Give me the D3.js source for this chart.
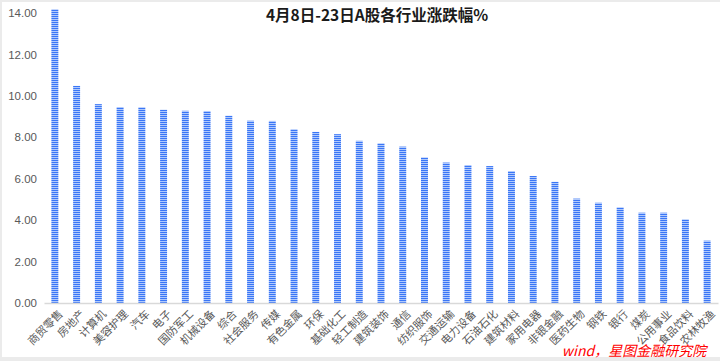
<!DOCTYPE html>
<html><head><meta charset="utf-8">
<script src="https://cdn.jsdelivr.net/npm/d3@7/dist/d3.min.js"></script>
<style>body{margin:0;background:#fff}svg{display:block}</style>
</head><body>
<svg id="c" width="720" height="361"></svg>
<script>
const categories = ["商贸零售","房地产","计算机","美容护理","汽车","电子","国防军工","机械设备","综合","社会服务","传媒","有色金属","环保","基础化工","轻工制造","建筑装饰","通信","纺织服饰","交通运输","电力设备","石油石化","建筑材料","家用电器","非银金融","医药生物","钢铁","银行","煤炭","公用事业","食品饮料","农林牧渔"];
const values = [14.18,10.48,9.60,9.46,9.45,9.33,9.28,9.27,9.04,8.80,8.79,8.39,8.26,8.15,7.83,7.71,7.55,7.03,6.78,6.66,6.61,6.37,6.13,5.85,5.04,4.84,4.62,4.36,4.36,4.04,3.01];
const yTicks = [0,2,4,6,8,10,12,14];
const title = "4月8日-23日A股各行业涨跌幅%";
const source = "wind，星图金融研究院";

const svg = d3.select("#c");
// frame
svg.append("rect").attr("x",0).attr("y",0).attr("width",720).attr("height",361).attr("fill","#ebebeb");
svg.append("rect").attr("x",2).attr("y",2).attr("width",718).attr("height",355).attr("fill","#fff");

const defs = svg.append("defs");
const pat = defs.append("pattern").attr("id","stripe").attr("patternUnits","userSpaceOnUse")
  .attr("width",8).attr("height",2);
pat.append("rect").attr("width",8).attr("height",2).attr("fill","#b0c9fc");
pat.append("rect").attr("width",8).attr("height",1).attr("fill","#3a76f6");

const x = d3.scaleBand().domain(categories).range([44,718]).paddingInner(0.68).paddingOuter(0.34);
const y = d3.scaleLinear().domain([0,14]).range([303,13]);

// y axis labels
const ya = svg.append("g").attr("transform","translate(37,0)")
  .call(d3.axisLeft(y).tickValues(yTicks).tickFormat(d3.format(".2f")).tickSize(0).tickPadding(0));
ya.select(".domain").remove();
ya.selectAll("text").attr("font-family","Liberation Sans, Arial, sans-serif").attr("font-size",11.5).attr("fill","#595959");

// bars
svg.append("g").selectAll("rect").data(values).join("rect")
  .attr("x",(d,i)=>x(categories[i]))
  .attr("width",x.bandwidth())
  .attr("y",d=>y(d))
  .attr("height",d=>y(0)-y(d))
  .attr("fill","url(#stripe)");

// x axis
const xa = svg.append("g").attr("transform","translate(0,303)")
  .call(d3.axisBottom(x).tickSize(0).tickPadding(0));
xa.select(".domain").attr("stroke","#d9d9d9").attr("stroke-width",1.5);
xa.selectAll("text")
  .attr("font-family","Noto Sans CJK SC, sans-serif").attr("font-size",11).attr("fill","#595959")
  .attr("text-anchor","end")
  .attr("transform","translate(6,9) rotate(-45)")
  .attr("dy","0.35em").attr("y",0);

// title
svg.append("text").attr("x",377).attr("y",21).attr("text-anchor","middle")
  .attr("font-family","Noto Sans CJK SC, sans-serif").attr("font-weight","bold").attr("font-size",15.5)
  .attr("fill","#1a1a1a").text(title);

// source
svg.append("text").attr("x",634).attr("y",356).attr("text-anchor","middle")
  .attr("font-family","Noto Sans CJK SC, sans-serif").attr("font-style","italic").attr("font-size",14)
  .attr("fill","#ff0000").text(source);
</script>
</body></html>
